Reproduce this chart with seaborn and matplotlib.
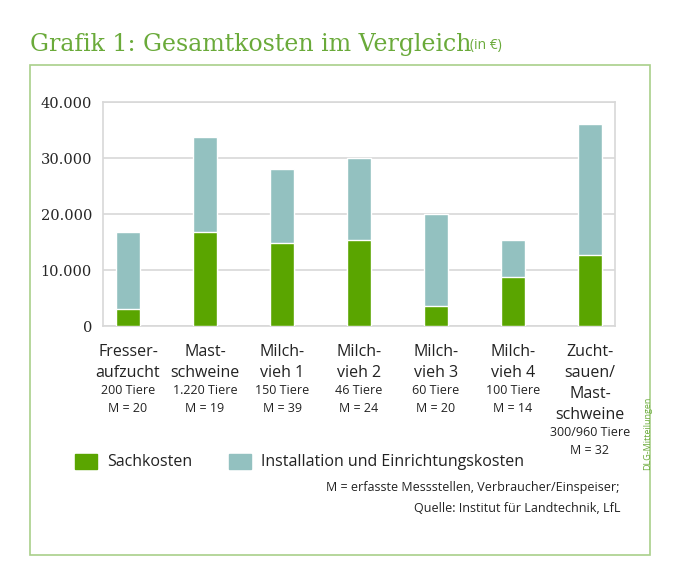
import numpy as np
import pandas as pd
import matplotlib.pyplot as plt
import matplotlib.patches as mpatches
from matplotlib.transforms import blended_transform_factory
import seaborn as sns

# data
kategorien = ["Fresser", "Mast", "Milch1", "Milch2", "Milch3", "Milch4", "Zucht"]
gesamt = [16800, 33800, 28000, 30000, 20000, 15300, 36000]
sachkosten = [3000, 16700, 14800, 15300, 3500, 8800, 12600]
zeilen_gross = [["Fresser-", "aufzucht"], ["Mast-", "schweine"], ["Milch-", "vieh 1"],
                ["Milch-", "vieh 2"], ["Milch-", "vieh 3"], ["Milch-", "vieh 4"],
                ["Zucht-", "sauen/", "Mast-", "schweine"]]
zeilen_klein = [["200 Tiere", "M = 20"], ["1.220 Tiere", "M = 19"], ["150 Tiere", "M = 39"],
                ["46 Tiere", "M = 24"], ["60 Tiere", "M = 20"], ["100 Tiere", "M = 14"],
                ["300/960 Tiere", "M = 32"]]

GRUEN = "#5aa500"
TUERKIS = "#93c1c0"
TITEL = "#6aaa3a"

sns.set_style("white")
plt.rcParams["font.family"] = ["Open Sans", "DejaVu Sans"]

df = pd.DataFrame({"kat": kategorien, "gesamt": gesamt, "sach": sachkosten})

fig = plt.figure(figsize=(6.83, 5.62), dpi=100)
ax = fig.add_axes([103 / 683, 1 - 326 / 562, 512 / 683, 224 / 562])

sns.barplot(data=df, x="kat", y="gesamt", color=TUERKIS, width=0.31, saturation=1, ax=ax, zorder=2)
sns.barplot(data=df, x="kat", y="sach", color=GRUEN, width=0.31, saturation=1, ax=ax, zorder=3)

ax.set_xlim(-0.325, 6.325)
ax.set_ylim(0, 40000)
ax.set_yticks([0, 10000, 20000, 30000, 40000])
ax.set_yticklabels(["0", "10.000", "20.000", "30.000", "40.000"],
                   fontfamily="DejaVu Serif", fontsize=10.5)
ax.set_xticks([])
ax.set_xlabel("")
ax.set_ylabel("")
ax.tick_params(axis="y", length=0, pad=8)
ax.grid(axis="y", color="#d8d8d8", lw=1.2, zorder=0)
for s in ax.spines.values():
    s.set_color("#d8d8d8")
    s.set_linewidth(1.2)

# category labels below the axis
trans = blended_transform_factory(ax.transData, fig.transFigure)
for i, (gr, kl) in enumerate(zip(zeilen_gross, zeilen_klein)):
    y = 352
    for t in gr:
        ax.text(i, 1 - y / 562, t, transform=trans, ha="center", va="center",
                fontsize=11.5, color="#222222")
        y += 21
    y -= 3
    for t in kl:
        ax.text(i, 1 - y / 562, t, transform=trans, ha="center", va="center",
                fontsize=9, color="#222222")
        y += 18

# title and frame
fig.text(30 / 683, 1 - 44 / 562, "Grafik 1: Gesamtkosten im Vergleich", fontsize=17,
         fontfamily="DejaVu Serif", color=TITEL, va="center")
fig.text(470 / 683, 1 - 45 / 562, "(in €)", fontsize=10, color=TITEL, va="center")
fig.patches.append(mpatches.Rectangle((30 / 683, 1 - 555 / 562), 620 / 683, 490 / 562,
                                      transform=fig.transFigure, fill=False,
                                      ec="#a9cf8a", lw=1.2))

# legend
for x0, col, lab in [(75, GRUEN, "Sachkosten"), (229, TUERKIS, "Installation und Einrichtungskosten")]:
    fig.patches.append(mpatches.Rectangle((x0 / 683, 1 - 469 / 562), 22 / 683, 15 / 562,
                                          transform=fig.transFigure, color=col))
    fig.text((x0 + 32) / 683, 1 - 462 / 562, lab, fontsize=11.5, va="center", color="#222222")

fig.text(620 / 683, 1 - 488 / 562, "M = erfasste Messstellen, Verbraucher/Einspeiser;",
         fontsize=9, ha="right", va="center", color="#222222")
fig.text(620 / 683, 1 - 509 / 562, "Quelle: Institut für Landtechnik, LfL",
         fontsize=9, ha="right", va="center", color="#222222")
fig.text(648 / 683, 1 - 470 / 562, "DLG-Mitteilungen", fontsize=6.5, rotation=90,
         ha="center", va="bottom", color=TITEL)

fig.savefig("out.png", dpi=100, facecolor="white")
